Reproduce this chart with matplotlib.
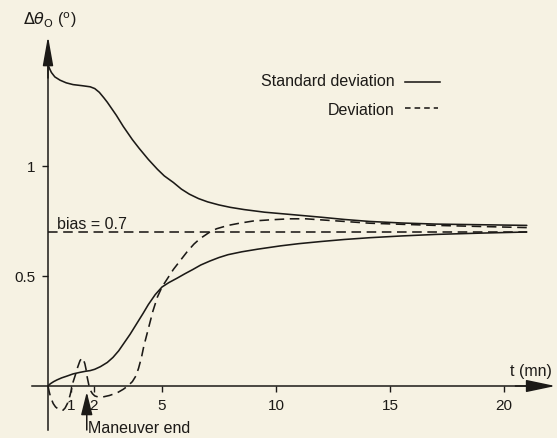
import matplotlib
matplotlib.use("Agg")
import matplotlib.pyplot as plt

# values (t in mn, angle in degrees)
std_upper_t = [0, 0.08, 0.15, 0.3, 0.53, 0.8, 1.1, 1.5, 1.85, 2.05, 2.25, 2.45, 2.6, 2.8, 3.0,
               3.3, 3.7, 4.0, 4.4, 4.8, 5.1, 5.5, 5.85, 6.2, 6.6, 7.0, 7.5, 8.0, 8.6, 9.5,
               10.6, 12.0, 13.0, 14.1, 15.5, 17.0, 19.0, 21.0]
std_upper_v = [1.46, 1.44, 1.425, 1.405, 1.39, 1.378, 1.37, 1.365, 1.36, 1.352, 1.335, 1.31, 1.29,
               1.26, 1.23, 1.18, 1.12, 1.08, 1.03, 0.985, 0.955, 0.925, 0.895, 0.872, 0.852,
               0.837, 0.823, 0.812, 0.802, 0.79, 0.78, 0.767, 0.757, 0.748, 0.741, 0.736, 0.733,
               0.73]

std_lower_t = [0, 0.1, 0.25, 0.4, 0.6, 0.83, 1.1, 1.4, 1.65, 1.85, 2.05, 2.3, 2.6, 2.85, 3.1,
               3.3, 3.6, 3.9, 4.17, 4.4, 4.7, 5.0, 5.3, 5.66, 6.0, 6.36, 6.7, 7.1, 7.5, 7.9,
               8.5, 9.2, 10.2, 11.0, 12.0, 13.0, 14.1, 15.5, 17.0, 19.0, 21.0]
std_lower_v = [0, 0.01, 0.02, 0.028, 0.037, 0.045, 0.055, 0.062, 0.067, 0.07, 0.076, 0.088, 0.107,
               0.13, 0.16, 0.19, 0.235, 0.285, 0.33, 0.37, 0.415, 0.45, 0.47, 0.49, 0.51, 0.53,
               0.55, 0.568, 0.584, 0.597, 0.61, 0.622, 0.637, 0.647, 0.657, 0.666, 0.674, 0.682,
               0.689, 0.695, 0.70]

dev_t = [0, 0.05, 0.1, 0.17, 0.23, 0.33, 0.45, 0.55, 0.66, 0.75, 0.85, 0.96, 1.03, 1.1, 1.2, 1.3,
         1.4, 1.46, 1.5, 1.55, 1.62, 1.67, 1.71, 1.76, 1.8, 1.86, 1.95, 2.05, 2.2, 2.4, 2.7, 3.05,
         3.3, 3.5, 3.7, 3.85, 3.97, 4.1, 4.2, 4.4, 4.6, 4.8, 5.0, 5.25, 5.5, 5.8, 6.1, 6.4, 6.67,
         7.1, 7.4, 7.9, 8.4, 9.0, 9.7, 10.6, 11.3, 12.0, 13.0, 14.1, 15.5, 17.0, 19.0, 21.0]
dev_v = [0, -0.025, -0.045, -0.065, -0.08, -0.095, -0.105, -0.11, -0.11, -0.1, -0.08, -0.045,
         -0.015, 0.018, 0.05, 0.085, 0.114, 0.124, 0.127, 0.122, 0.1, 0.075, 0.045, 0.02, 0,
         -0.02, -0.035, -0.045, -0.05, -0.05, -0.043, -0.03, -0.015, 0.0, 0.02, 0.045, 0.08,
         0.13, 0.18, 0.26, 0.34, 0.405, 0.45, 0.49, 0.53, 0.57, 0.61, 0.645, 0.67, 0.70, 0.715,
         0.73, 0.74, 0.75, 0.755, 0.76, 0.76, 0.755, 0.748, 0.74, 0.735, 0.73, 0.725, 0.72]

bias = 0.7
bias_t = [0, 21.0]

x_ticks = [1, 2, 5, 10, 15, 20]
x_tick_labels = ["1", "2", "5", "10", "15", "20"]
y_ticks = [0.5, 1]
y_tick_labels = ["0.5", "1"]

maneuver_end = 1.7

ink = "#1c1a17"
paper = "#f6f2e3"
fs = 11.5
plt.rcParams["font.family"] = ["Liberation Sans", "DejaVu Sans"]
plt.rcParams["mathtext.fontset"] = "dejavusans"

fig = plt.figure(figsize=(5.57, 4.39), dpi=100, facecolor=paper)
ax = fig.add_axes([0, 0, 1, 1], facecolor=paper)
ax.set_xlim(-48 / 22.8, 509 / 22.8)
ax.set_ylim(-52 / 220, 387 / 220)

# axes through the origin
for s in ["top", "right"]:
    ax.spines[s].set_visible(False)
ax.spines["left"].set_position(("data", 0))
ax.spines["bottom"].set_position(("data", 0))
ax.spines["left"].set_bounds(-0.2, 1.5)
ax.spines["bottom"].set_bounds(-0.7, 21.5)
for s in ["left", "bottom"]:
    ax.spines[s].set_color(ink)
    ax.spines[s].set_linewidth(1.1)
ax.annotate("", xy=(22.25, 0), xytext=(20.5, 0),
            arrowprops=dict(arrowstyle="-|>,head_length=1.8,head_width=0.38", mutation_scale=10,
                            lw=1.1, color=ink, shrinkA=0, shrinkB=0))
ax.annotate("", xy=(0, 1.59), xytext=(0, 1.4),
            arrowprops=dict(arrowstyle="-|>,head_length=1.8,head_width=0.32", mutation_scale=10,
                            lw=1.1, color=ink, shrinkA=0, shrinkB=0))

ax.set_xticks(x_ticks)
ax.set_xticklabels(x_tick_labels)
ax.set_yticks(y_ticks)
ax.set_yticklabels(y_tick_labels)
ax.tick_params(axis="x", direction="out", length=4, width=1, pad=5, labelsize=11, colors=ink)
ax.tick_params(axis="y", direction="out", length=4, width=1, pad=5, labelsize=11, colors=ink)

ax.plot(std_upper_t, std_upper_v, color=ink, lw=1.15, solid_capstyle="round")
ax.plot(std_lower_t, std_lower_v, color=ink, lw=1.15, solid_capstyle="round")
ax.plot(dev_t, dev_v, color=ink, lw=1.15, linestyle=(0, (6, 3.5)))
ax.plot(bias_t, [bias, bias], color=ink, lw=1.15, linestyle=(0, (6, 3.5)))

ax.text(0.4, bias + 0.04, "bias = 0.7", fontsize=fs, color=ink, va="center", ha="left")
ax.text(-1.1, 1.665, r"$\Delta\theta_{\mathrm{O}}$ ($^{\mathrm{o}}$)", fontsize=fs, color=ink,
        va="center", ha="left")
ax.text(22.1, 0.07, "t (mn)", fontsize=fs, color=ink, ha="right", va="center")

# legend drawn as text + samples
ax.text(15.2, 1.387, "Standard deviation", fontsize=fs, color=ink, ha="right", va="center")
ax.plot([15.65, 17.2], [1.38, 1.38], color=ink, lw=1.15)
ax.text(15.2, 1.259, "Deviation", fontsize=fs, color=ink, ha="right", va="center")
ax.plot([15.65, 17.1], [1.265, 1.265], color=ink, lw=1.15, linestyle=(0, (3.5, 2.5)))

# maneuver end marker
ax.annotate("", xy=(maneuver_end, -0.027), xytext=(maneuver_end, -0.2),
            arrowprops=dict(arrowstyle="-|>,head_length=1.4,head_width=0.35", mutation_scale=10,
                            lw=1.1, color=ink, shrinkA=0, shrinkB=0))
ax.text(maneuver_end + 0.05, -0.19, "Maneuver end", fontsize=fs, color=ink, ha="left", va="center")

fig.savefig("out.png", dpi=100, facecolor=paper)
